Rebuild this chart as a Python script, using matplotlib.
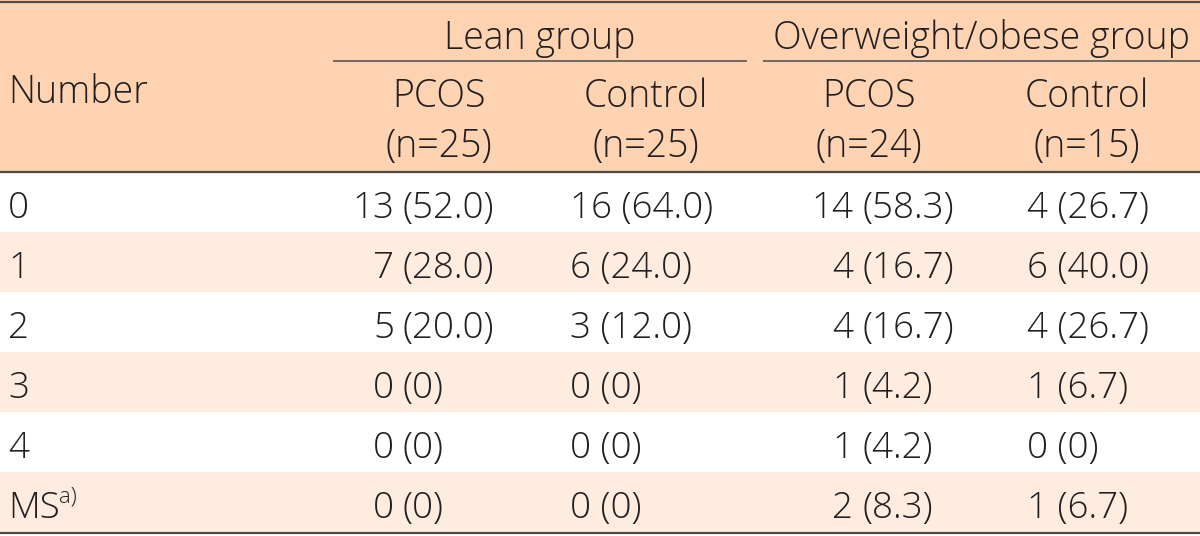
import matplotlib
matplotlib.use("Agg")
import matplotlib.pyplot as plt
from matplotlib.patches import Rectangle

# ---------------- data ----------------
row_labels = ["0", "1", "2", "3", "4", "MS"]
group_labels = ["Lean group", "Overweight/obese group"]
col_labels = ["PCOS", "Control", "PCOS", "Control"]
col_n = ["(n=25)", "(n=25)", "(n=24)", "(n=15)"]

lean_pcos_count = [13, 7, 5, 0, 0, 0]
lean_pcos_pct = ["52.0", "28.0", "20.0", "0", "0", "0"]
lean_ctrl_count = [16, 6, 3, 0, 0, 0]
lean_ctrl_pct = ["64.0", "24.0", "12.0", "0", "0", "0"]
ow_pcos_count = [14, 4, 4, 1, 1, 2]
ow_pcos_pct = ["58.3", "16.7", "16.7", "4.2", "4.2", "8.3"]
ow_ctrl_count = [4, 6, 4, 1, 0, 1]
ow_ctrl_pct = ["26.7", "40.0", "26.7", "6.7", "0", "6.7"]

counts = [lean_pcos_count, lean_ctrl_count, ow_pcos_count, ow_ctrl_count]
pcts = [lean_pcos_pct, lean_ctrl_pct, ow_pcos_pct, ow_ctrl_pct]

# ---------------- style ----------------
FONT = ["Open Sans", "DejaVu Sans"]
WEIGHT = "light"
W, H = 1200, 536
HEADER_C = "#FDD3B2"
STRIPE_C = "#FEECE0"
LINE_C = "#4A4A4A"
TXT_C = "#231F20"
FS = 26.5
FS_HEAD = 27

fig = plt.figure(figsize=(W / 100, H / 100), dpi=100)
ax = fig.add_axes([0, 0, 1, 1])
ax.set_xlim(0, W)
ax.set_ylim(H, 0)
ax.axis("off")

header_bottom = 172
row_h = 60


def txt(x, y, s, ha="left", fs=FS):
    return ax.text(x, y, s, ha=ha, va="baseline", fontsize=fs, family=FONT,
                   weight=WEIGHT, color=TXT_C)


# backgrounds
ax.add_patch(Rectangle((0, 0), W, header_bottom, color=HEADER_C, lw=0))
for i in range(len(row_labels)):
    if i % 2 == 1:
        ax.add_patch(Rectangle((0, header_bottom + i * row_h), W, row_h,
                               color=STRIPE_C, lw=0))

# rules
ax.plot([0, W], [1.5, 1.5], color=LINE_C, lw=1.6, solid_capstyle="butt")
ax.plot([0, W], [header_bottom, header_bottom], color=LINE_C, lw=1.6,
        solid_capstyle="butt")
table_bottom = header_bottom + len(row_labels) * row_h + 1
ax.plot([0, W], [table_bottom, table_bottom], color=LINE_C, lw=1.6,
        solid_capstyle="butt")

group_spans = [(333, 747), (763, 1200)]
for (x0, x1), g in zip(group_spans, group_labels):
    ax.plot([x0, x1], [61, 61], color=LINE_C, lw=1.1, solid_capstyle="butt")
    txt((x0 + x1) / 2, 49, g, ha="center", fs=FS_HEAD)

txt(8, 103, "Number", fs=FS_HEAD)

col_centers = [439, 646, 869, 1087]
for xc, lab, n in zip(col_centers, col_labels, col_n):
    txt(xc, 107, lab, ha="center", fs=FS_HEAD)
    txt(xc, 157, n, ha="center", fs=FS_HEAD)

# data cells: (mode, anchor x)
col_modes = [("split", 394), ("left", 570), ("split", 853), ("left", 1027)]
for i, rl in enumerate(row_labels):
    yb = header_bottom + i * row_h + 46
    t = txt(8, yb, rl)
    if rl == "MS":
        fig.canvas.draw()
        bb = t.get_window_extent(renderer=fig.canvas.get_renderer())
        x_end = ax.transData.inverted().transform((bb.x1, bb.y0))[0]
        txt(x_end - 1, yb - 15, "a)", fs=FS * 0.6)
    for c, (mode, xa) in enumerate(col_modes):
        cnt = str(counts[c][i])
        pct = "(" + pcts[c][i] + ")"
        if mode == "left":
            txt(xa, yb, cnt + " " + pct)
        else:
            txt(xa, yb, cnt, ha="right")
            txt(xa + 9, yb, pct)

fig.savefig("out.png", dpi=100)
